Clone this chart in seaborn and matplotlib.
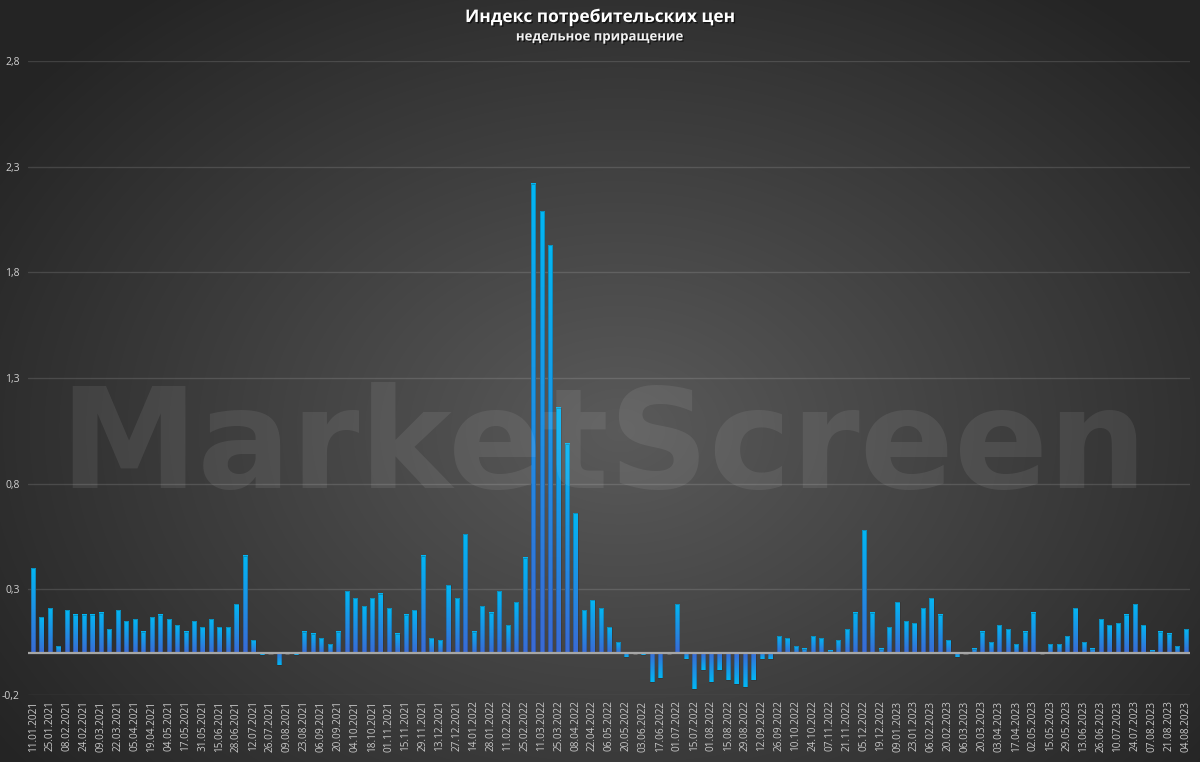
import numpy as np
import pandas as pd
import seaborn as sns
import matplotlib.pyplot as plt
from matplotlib.colors import LinearSegmentedColormap
import matplotlib.patheffects as pe

# weekly CPI increments, %
values = [
    0.40, 0.17, 0.21, 0.03, 0.20, 0.18, 0.18, 0.18, 0.19, 0.11, 0.20, 0.15, 0.16, 0.10, 0.17, 0.18,
    0.16, 0.13, 0.10, 0.15, 0.12, 0.16, 0.12, 0.12, 0.23, 0.46, 0.06, -0.01, 0.00, -0.06, 0.00, -0.01,
    0.10, 0.09, 0.07, 0.04, 0.10, 0.29, 0.26, 0.22, 0.26, 0.28, 0.21, 0.09, 0.18, 0.20, 0.46, 0.07,
    0.06, 0.32, 0.26, 0.56, 0.10, 0.22, 0.19, 0.29, 0.13, 0.24, 0.45,
    2.22, 2.09, 1.93, 1.16, 0.99, 0.66,
    0.20, 0.25, 0.21, 0.12, 0.05, -0.02, 0.00, -0.01, -0.14, -0.12, 0.00, 0.23, -0.03, -0.17, -0.08,
    -0.14, -0.08, -0.13, -0.15, -0.16, -0.13, -0.03, -0.03, 0.08, 0.07, 0.03, 0.02, 0.08, 0.07, 0.01,
    0.06, 0.11, 0.19,
    0.58, 0.19, 0.02, 0.12, 0.24, 0.15, 0.14, 0.21, 0.26, 0.18, 0.06, -0.02, 0.00, 0.02, 0.10,
    0.05, 0.13, 0.11, 0.04, 0.10, 0.19, 0.00, 0.04, 0.04, 0.08, 0.21, 0.05, 0.02, 0.16, 0.13,
    0.14, 0.18, 0.23, 0.13, 0.01, 0.10, 0.09, 0.03, 0.11,
]

# every second week is labelled on the axis
tick_labels = [
    "11.01.2021", "25.01.2021", "08.02.2021", "24.02.2021", "09.03.2021", "22.03.2021", "05.04.2021",
    "19.04.2021", "04.05.2021", "17.05.2021", "31.05.2021", "15.06.2021", "28.06.2021", "12.07.2021",
    "26.07.2021", "09.08.2021", "23.08.2021", "06.09.2021", "20.09.2021", "04.10.2021", "18.10.2021",
    "01.11.2021", "15.11.2021", "29.11.2021", "13.12.2021", "27.12.2021",
    "14.01.2022", "28.01.2022", "11.02.2022", "25.02.2022", "11.03.2022", "25.03.2022", "08.04.2022",
    "22.04.2022", "06.05.2022", "20.05.2022", "03.06.2022", "17.06.2022", "01.07.2022", "15.07.2022",
    "01.08.2022", "15.08.2022", "29.08.2022", "12.09.2022", "26.09.2022", "10.10.2022", "24.10.2022",
    "07.11.2022", "21.11.2022", "05.12.2022", "19.12.2022",
    "09.01.2023", "23.01.2023", "06.02.2023", "20.02.2023", "06.03.2023", "20.03.2023", "03.04.2023",
    "17.04.2023", "02.05.2023", "15.05.2023", "29.05.2023", "13.06.2023", "26.06.2023", "10.07.2023",
    "24.07.2023", "07.08.2023", "21.08.2023", "04.08.2023",
]

y_ticks = [-0.2, 0.3, 0.8, 1.3, 1.8, 2.3, 2.8]

df = pd.DataFrame({"week": np.arange(len(values)), "value": values})

sns.set_theme(style="dark")
plt.rcParams["font.family"] = ["Open Sans", "DejaVu Sans"]

fig = plt.figure(figsize=(12, 7.62), dpi=100)

# radial grey background
bg = fig.add_axes([0, 0, 1, 1], zorder=-10)
yy, xx = np.mgrid[0:762, 0:1200]
r = np.sqrt(((xx - 620) / 760.0) ** 2 + ((yy - 430) / 560.0) ** 2)
shade = np.clip(1 - r, 0, 1)
bg_cmap = LinearSegmentedColormap.from_list("bg", ["#242424", "#5a5a5a"])
bg.imshow(shade, cmap=bg_cmap, aspect="auto", extent=(0, 1, 0, 1), origin="upper")
bg.axis("off")

ax = fig.add_axes([28 / 1200, 67 / 762, 1162 / 1200, 634 / 762])
ax.patch.set_alpha(0)

sns.barplot(data=df, x="week", y="value", color="#1f8fe0", width=0.5, ax=ax, zorder=3)

# gradient fill on each bar, lighter at the bar end
bar_cmap = LinearSegmentedColormap.from_list("bar", ["#3a6ad4", "#03b6f3"])
grad = np.linspace(0, 1, 64).reshape(-1, 1)
for p in ax.patches:
    x0, w = p.get_x(), p.get_width()
    h = p.get_height()
    if h == 0:
        continue
    if h > 0:
        ext = (x0, x0 + w, 0, h)
        img = grad
    else:
        ext = (x0, x0 + w, h, 0)
        img = grad[::-1]
    ax.imshow(img, cmap=bar_cmap, aspect="auto", extent=ext, origin="lower", zorder=3.5)
    p.set_facecolor("none")
    p.set_edgecolor((0.12, 0.12, 0.12, 0.35))
    p.set_linewidth(0.5)
    p.set_zorder(3.6)

ax.set_xlim(-0.6, len(values) - 0.5)
ax.set_ylim(-0.2, 2.8)
ax.set_yticks(y_ticks)
ax.set_yticklabels([f"{v:.1f}".replace(".", ",") for v in y_ticks], fontsize=7.5, color="#d0d0d0")
ax.set_xticks(np.arange(0, len(values), 2))
ax.set_xticklabels(tick_labels, rotation=90, fontsize=7.2, color="#c8c8c8")
ax.tick_params(axis="x", pad=4, length=0)
ax.tick_params(axis="y", pad=6, length=0)
ax.set_xlabel("")
ax.set_ylabel("")
for s in ax.spines.values():
    s.set_visible(False)

for v in y_ticks:
    ax.axhline(v, color="white", alpha=0.13, lw=1, zorder=1)
ax.axhline(0, color="#a6a6a6", lw=1.6, zorder=4)

# watermark
fig.text(0.503, 1 - 488 / 762, "MarketScreen", fontsize=100, fontweight="bold", color="white",
         alpha=0.08, ha="center", va="baseline", family=["DejaVu Sans"], zorder=0)

shadow = [pe.withSimplePatchShadow(offset=(1, -1), shadow_rgbFace="black", alpha=0.6)]
fig.text(0.5, 1 - 17 / 762, "Индекс потребительских цен", fontsize=12.5, fontweight="bold",
         color="white", ha="center", va="center", path_effects=shadow)
fig.text(0.5, 1 - 37 / 762, "недельное приращение", fontsize=9.5, fontweight="bold",
         color="#f0f0f0", ha="center", va="center", path_effects=shadow)

fig.savefig("out.png", dpi=100)
